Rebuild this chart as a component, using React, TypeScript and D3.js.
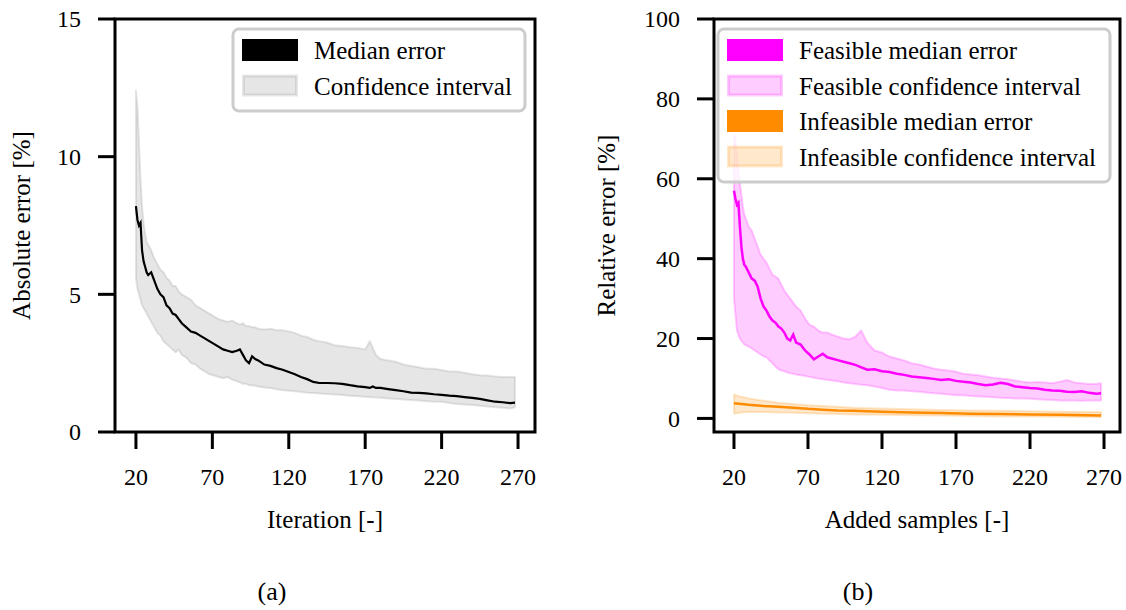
import React from "react";
import * as d3 from "d3";

// ---- data ----
const X_TICKS = [20, 70, 120, 170, 220, 270];
const Y_TICKS_ABS = [0, 5, 10, 15];
const Y_TICKS_REL = [0, 20, 40, 60, 80, 100];

const ITERATIONS = [
  20, 21, 22, 23, 24, 25, 26, 27, 28,
  30, 32, 34, 36, 38, 40, 42, 44, 46, 48, 50,
  53, 56, 59, 62, 65, 68, 71, 74, 77, 80,
  83, 86,
  88, 90, 92, 94, 96, 98, 100,
  104, 108, 112, 116, 120, 124, 128, 132, 136, 140,
  145, 150, 155, 160, 165, 170,
  173, 175, 177,
  180, 185, 190, 195, 200, 205, 210, 215, 220, 225, 230, 235, 240, 245, 250, 255, 260, 265,
  268,
];
const ABS_MEDIAN = [
  8.2, 7.7, 7.5, 7.6, 6.6, 6.2, 6.0, 5.8, 5.7,
  5.8, 5.5, 5.2, 5.0, 4.9, 4.6, 4.5, 4.3, 4.25, 4.1, 3.95,
  3.8, 3.65, 3.6, 3.5, 3.4, 3.3, 3.2, 3.1, 3.0, 2.95,
  2.9, 2.95,
  3.0, 2.8, 2.6, 2.5, 2.75, 2.65, 2.6,
  2.45, 2.4, 2.32, 2.26, 2.18, 2.1, 2.0, 1.92, 1.82, 1.78,
  1.78, 1.77, 1.75, 1.7, 1.66, 1.63,
  1.6, 1.65, 1.6,
  1.6, 1.56, 1.52, 1.48, 1.43, 1.42, 1.4, 1.37, 1.35, 1.32, 1.3, 1.27, 1.24, 1.2, 1.15, 1.1, 1.08, 1.05,
  1.07,
];
const ABS_UPPER = [
  12.4, 11.8, 10.5, 9.2, 8.2, 7.6, 7.2, 6.9, 6.8,
  6.6, 6.3, 6.1, 5.9, 5.8, 5.6, 5.5, 5.3, 5.3, 5.1, 5.0,
  4.9, 4.8, 4.6, 4.5, 4.4, 4.3, 4.2, 4.1, 4.05, 4.0,
  4.05, 3.95,
  3.9, 3.95, 3.85, 3.85, 3.8, 3.8, 3.75,
  3.72, 3.75, 3.7, 3.7, 3.65, 3.6, 3.5, 3.45, 3.35, 3.3,
  3.25, 3.15, 3.12, 3.08, 3.05, 3.0,
  3.3, 3.05, 2.8,
  2.65, 2.6, 2.55, 2.45, 2.4, 2.35, 2.3, 2.3, 2.25, 2.2, 2.2, 2.15, 2.1, 2.06, 2.05, 2.02, 2.0, 2.0,
  2.0,
];
const ABS_LOWER = [
  5.6, 5.2, 5.0, 4.8, 4.6, 4.5, 4.4, 4.3, 4.2,
  4.0, 3.8, 3.6, 3.5, 3.3, 3.2, 3.1, 3.0, 2.9, 3.0, 2.8,
  2.7, 2.5, 2.45, 2.3, 2.2, 2.1, 2.05, 2.0, 1.95, 2.0,
  1.9, 1.85,
  1.8, 1.75, 1.75, 1.7, 1.7, 1.68, 1.65,
  1.62, 1.6, 1.55, 1.52, 1.5, 1.48, 1.45, 1.43, 1.42, 1.4,
  1.38, 1.36, 1.34, 1.32, 1.3, 1.28,
  1.26, 1.26, 1.25,
  1.24, 1.22, 1.2, 1.18, 1.16, 1.14, 1.12, 1.1, 1.1, 1.05, 1.02, 1.0, 0.98, 0.95, 0.93, 0.9, 0.88, 0.85,
  0.9,
];

const SAMPLES = [
  20, 21, 22, 23, 24, 25, 26, 27, 28,
  30, 32, 34, 36, 38, 40, 42, 44, 46, 48, 50, 52, 54, 56, 58, 60, 62,
  65, 68, 71, 74, 77, 80, 83, 86,
  90, 94, 98, 102, 106, 110,
  115, 120, 125, 130, 135, 140, 145, 150, 155, 160, 165, 170, 175, 180, 185, 190,
  195, 200, 205, 210, 215, 220, 225, 230, 235, 240, 245, 250, 255, 260, 265,
  268,
];
const FEAS_MEDIAN = [
  57, 55, 53.5, 54, 48, 43, 40, 38.5, 38,
  36.5, 35, 34.5, 33, 30, 28, 27, 25.5, 24.5, 24, 23, 22.5, 21.5, 20, 19.5, 21, 19,
  18.5, 17, 16, 14.8, 15.5, 16.2, 15.3, 15,
  14.6, 14.2, 13.8, 13.4, 12.8, 12.2,
  12.3, 11.8, 11.6, 11.2, 10.9, 10.5, 10.3, 10.1, 9.9, 9.6, 9.8, 9.4, 9.2, 9.0, 8.6, 8.3,
  8.5, 8.9, 8.6, 8.0, 7.8, 7.6, 7.5, 7.2, 7.0, 6.9, 6.7, 6.6, 6.8, 6.4, 6.2,
  6.3,
];
const FEAS_UPPER = [
  71, 70, 66, 62, 59, 56, 53, 51, 50,
  48, 47, 45, 43, 41, 40, 39, 37.5, 36, 35.5, 35, 33.5, 32, 31, 30, 29, 28,
  27, 25, 23.5, 23, 22, 21.5, 21.5, 21,
  20.5, 20, 19.8, 20.5, 22, 19,
  17, 16.5, 15.5, 15, 14.5, 13.8, 13.5, 13, 12.5, 12.2, 12, 11.7, 11.2, 11, 10.8, 10.5,
  10.2, 10, 9.8, 9.5, 9.2, 9.0, 9.1, 9.0, 8.8, 9.2, 9.6, 9.0, 8.8, 8.6, 8.7,
  8.8,
];
const FEAS_LOWER = [
  30, 26, 22, 21, 20, 19.5, 19, 18.5, 18.3,
  18, 17.5, 17, 16.5, 16, 15.5, 15.3, 14.5, 13.8, 13, 12.3, 12, 11.8, 11.5, 11.3, 11.2, 11.0,
  10.8, 10.6, 10.4, 10.2, 10.0, 9.8, 9.6, 9.5,
  9.3, 9.0, 8.8, 8.6, 8.4, 8.3,
  8.0, 7.6, 7.2, 7.0, 7.0, 6.8, 6.7, 6.5, 6.3, 6.2, 6.0, 5.8, 5.8, 5.6, 5.5, 5.4,
  5.3, 5.2, 5.1, 5.0, 5.0, 4.9, 4.8, 4.7, 4.6, 4.5, 4.5, 4.5, 4.4, 4.5, 4.5,
  4.5,
];

const INF_SAMPLES = [20, 25, 30, 40, 50, 60, 70, 80, 90, 100, 120, 140, 160, 180, 200, 220, 240, 260, 268];
const INF_MEDIAN = [3.8, 3.6, 3.4, 3.1, 2.9, 2.7, 2.4, 2.2, 2.0, 1.9, 1.7, 1.5, 1.35, 1.2, 1.1, 1.0, 0.9, 0.8, 0.75];
const INF_UPPER = [6.0, 5.4, 5.0, 4.4, 3.9, 3.6, 3.3, 3.1, 2.9, 2.7, 2.5, 2.3, 2.1, 2.0, 1.9, 1.8, 1.7, 1.6, 1.6];
const INF_LOWER = [1.2, 1.5, 1.6, 1.6, 1.5, 1.4, 1.3, 1.2, 1.1, 1.0, 0.9, 0.8, 0.7, 0.6, 0.5, 0.45, 0.4, 0.35, 0.3];

const LEGEND_A = ["Median error", "Confidence interval"];
const LEGEND_B = [
  "Feasible median error",
  "Feasible confidence interval",
  "Infeasible median error",
  "Infeasible confidence interval",
];

const FONT = "'Liberation Serif', 'Times New Roman', serif";
const TOP = 19;
const BOTTOM = 432;

type Series = { x: number[]; median: number[]; upper: number[]; lower: number[]; color: string; band: string };

const alpha = (c: string, a: number) => d3.color(c)!.copy({ opacity: a }).toString();

const Panel = (props: {
  left: number;
  right: number;
  xDomain: [number, number];
  yDomain: [number, number];
  yTicks: number[];
  xLabel: string;
  yLabel: string;
  yLabelX: number;
  caption: string;
  captionX: number;
  series: Series[];
  legend: string[];
  legendWidth: number;
}) => {
  const { left, right } = props;
  const x = d3.scaleLinear().domain(props.xDomain).range([left, right]);
  const y = d3.scaleLinear().domain(props.yDomain).range([BOTTOM, TOP]);
  const tickLen = 17;

  // legend geometry
  const rowH = 35.5;
  const lx = right - 10 - props.legendWidth;
  const ly = TOP + 10;
  const lh = props.legend.length * rowH + 11;

  const legendItems = props.series.flatMap((s) => [
    { kind: "line", color: s.color },
    { kind: "band", color: s.band },
  ]);

  return (
    <g>
      {props.series.map((s, si) => {
        const pts = s.x.map((v, i) => ({ x: v, m: s.median[i], u: s.upper[i], l: s.lower[i] }));
        const area = d3
          .area<(typeof pts)[number]>()
          .x((d) => x(d.x))
          .y0((d) => y(d.l))
          .y1((d) => y(d.u));
        const med = d3
          .line<(typeof pts)[number]>()
          .x((d) => x(d.x))
          .y((d) => y(d.m));
        return (
          <g key={si}>
            <path
              d={area(pts)!}
              fill={alpha(s.band, 0.2)}
              stroke={alpha(s.band, 0.2)}
              strokeWidth={2}
              strokeLinejoin="round"
            />
            <path d={med(pts)!} fill="none" stroke={s.color} strokeWidth={s.color === "black" ? 2.2 : 2.5} />
          </g>
        );
      })}

      {/* spines */}
      <rect x={left} y={TOP} width={right - left} height={BOTTOM - TOP} fill="none" stroke="black" strokeWidth={3} />

      {/* y ticks */}
      {props.yTicks.map((t) => (
        <g key={"y" + t}>
          <line x1={left - tickLen} x2={left} y1={y(t)} y2={y(t)} stroke="black" strokeWidth={3} />
          <text x={left - 34} y={y(t)} dy="0.35em" textAnchor="end" fontFamily={FONT} fontSize={24}>
            {t}
          </text>
        </g>
      ))}

      {/* x ticks */}
      {X_TICKS.map((t) => (
        <g key={"x" + t}>
          <line x1={x(t)} x2={x(t)} y1={BOTTOM} y2={BOTTOM + tickLen} stroke="black" strokeWidth={3} />
          <text x={x(t)} y={485} textAnchor="middle" fontFamily={FONT} fontSize={24}>
            {t}
          </text>
        </g>
      ))}

      <text x={(left + right) / 2} y={528} textAnchor="middle" fontFamily={FONT} fontSize={25}>
        {props.xLabel}
      </text>
      <text
        transform={`translate(${props.yLabelX},${(TOP + BOTTOM) / 2}) rotate(-90)`}
        textAnchor="middle"
        fontFamily={FONT}
        fontSize={25}
      >
        {props.yLabel}
      </text>
      <text x={props.captionX} y={600} textAnchor="middle" fontFamily={FONT} fontSize={26}>
        {props.caption}
      </text>

      {/* legend */}
      <rect
        x={lx}
        y={ly}
        width={props.legendWidth}
        height={lh}
        rx={6}
        fill="white"
        fillOpacity={0.8}
        stroke="#cccccc"
        strokeWidth={3}
      />
      {props.legend.map((label, i) => {
        const item = legendItems[i];
        const hy = ly + 10 + i * rowH;
        return (
          <g key={label}>
            {item.kind === "line" ? (
              <rect x={lx + 9} y={hy} width={56} height={22} fill={item.color} />
            ) : (
              <rect
                x={lx + 10.5}
                y={hy + 1.5}
                width={53}
                height={19}
                fill={alpha(item.color, 0.2)}
                stroke={alpha(item.color, 0.2)}
                strokeWidth={3}
              />
            )}
            <text x={lx + 81} y={hy + 20} fontFamily={FONT} fontSize={25}>
              {label}
            </text>
          </g>
        );
      })}
    </g>
  );
};

const App = () => (
  <svg width={1126} height={610} style={{ position: "absolute", left: 0, top: 0, background: "white" }}>
    <rect width={1126} height={610} fill="white" />
    <Panel
      left={115}
      right={535}
      xDomain={[6.3, 281.1]}
      yDomain={[0, 15]}
      yTicks={Y_TICKS_ABS}
      xLabel="Iteration [-]"
      yLabel="Absolute error [%]"
      yLabelX={30}
      caption="(a)"
      captionX={272}
      series={[
        { x: ITERATIONS, median: ABS_MEDIAN, upper: ABS_UPPER, lower: ABS_LOWER, color: "black", band: "#808080" },
      ]}
      legend={LEGEND_A}
      legendWidth={292}
    />
    <Panel
      left={714}
      right={1120}
      xDomain={[6.5, 280.8]}
      yDomain={[-3.4, 100]}
      yTicks={Y_TICKS_REL}
      xLabel="Added samples [-]"
      yLabel="Relative error [%]"
      yLabelX={615}
      caption="(b)"
      captionX={858}
      series={[
        { x: SAMPLES, median: FEAS_MEDIAN, upper: FEAS_UPPER, lower: FEAS_LOWER, color: "#ff00ff", band: "#ff00ff" },
        { x: INF_SAMPLES, median: INF_MEDIAN, upper: INF_UPPER, lower: INF_LOWER, color: "#ff8c00", band: "#ff8c00" },
      ]}
      legend={LEGEND_B}
      legendWidth={392}
    />
  </svg>
);

export default App;
